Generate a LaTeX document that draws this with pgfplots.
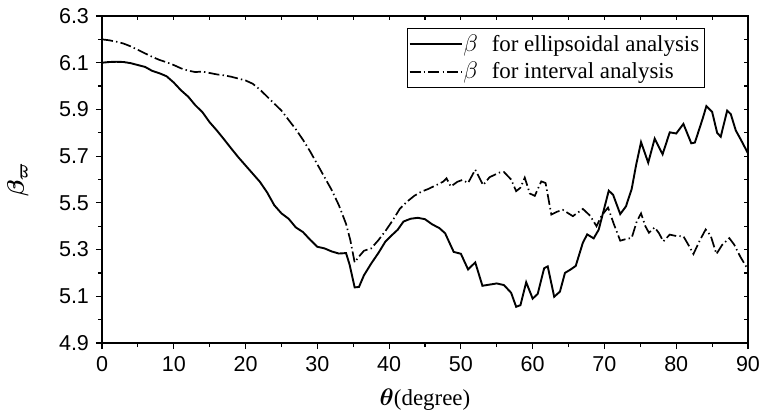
\documentclass[border=0pt]{standalone}
\usepackage{fontspec}
\setmainfont{Liberation Serif}
\newfontfamily\arialfont{Liberation Sans}
\usepackage{bm}
\usepackage{pgfplots}
\pgfplotsset{compat=1.18}

% beta for ellipsoidal analysis
\pgfplotstableread{
x y
0 6.100
1 6.103
2 6.104
3 6.103
4 6.098
5 6.090
6 6.082
7 6.065
8 6.055
9 6.042
10 6.015
11 5.982
12 5.955
13 5.918
14 5.888
15 5.845
16 5.810
17 5.772
18 5.733
19 5.695
20 5.660
21 5.625
22 5.590
23 5.545
24 5.490
25 5.455
26 5.432
27 5.395
28 5.375
29 5.342
30 5.312
31 5.305
32 5.292
33 5.283
34 5.285
34.5 5.235
35.2 5.138
35.8 5.140
36.5 5.190
37.5 5.240
38.5 5.285
39.5 5.335
40.5 5.365
41.2 5.385
42 5.420
43 5.432
44 5.436
45 5.430
46 5.408
47 5.392
47.8 5.370
48.4 5.330
49 5.290
50 5.282
51 5.215
52 5.245
53 5.145
54 5.150
55 5.155
56 5.148
57 5.115
57.7 5.055
58.3 5.062
59.1 5.160
60 5.090
60.7 5.110
61.6 5.220
62.1 5.228
63 5.098
63.8 5.120
64.5 5.200
65.3 5.215
66 5.230
67 5.330
67.6 5.365
68.5 5.348
69.2 5.385
70 5.480
70.6 5.552
71.2 5.535
72.2 5.452
73 5.485
73.8 5.560
74.4 5.660
75.1 5.760
76.1 5.672
77 5.775
78.1 5.708
79.1 5.802
80 5.797
81 5.838
82.1 5.755
82.6 5.758
83.7 5.862
84.2 5.914
85 5.890
85.7 5.800
86.2 5.783
87.1 5.895
87.6 5.880
88.3 5.810
89.1 5.765
90 5.712
}\ellipsoidal

% beta for interval analysis
\pgfplotstableread{
x y
0 6.200
1 6.196
2 6.190
3 6.182
4 6.170
5 6.155
6 6.140
7 6.125
8 6.112
9 6.102
10 6.090
11 6.076
12 6.066
13 6.060
14 6.062
15 6.056
16 6.050
17 6.046
18 6.040
19 6.032
20 6.024
21 6.010
22 5.985
23 5.955
24 5.925
25 5.895
26 5.855
27 5.815
28 5.770
29 5.720
30 5.665
31 5.610
32 5.555
33 5.490
34 5.410
34.6 5.340
35.2 5.245
35.8 5.270
36.5 5.295
37.5 5.305
38.5 5.340
39.5 5.380
40.5 5.425
41.5 5.475
42.5 5.505
43.5 5.530
44.5 5.548
45.5 5.560
46.5 5.575
47.5 5.590
48 5.605
48.6 5.570
49.5 5.590
50.2 5.598
51 5.585
52 5.642
53.1 5.576
54 5.610
55.4 5.630
56 5.632
57 5.600
57.7 5.550
58.3 5.565
58.9 5.608
59.6 5.540
60.3 5.530
61.2 5.592
61.8 5.585
62.6 5.450
63.4 5.462
64.2 5.470
65.6 5.443
67 5.474
68 5.445
68.9 5.400
69.6 5.445
70.5 5.480
71.3 5.410
72.2 5.338
73 5.345
73.8 5.350
74.5 5.420
75.1 5.455
75.7 5.400
76.2 5.372
77 5.395
77.6 5.370
78.2 5.335
79.1 5.364
80 5.358
81 5.357
81.7 5.320
82.4 5.281
83.3 5.340
84.1 5.386
84.8 5.360
85.6 5.281
86.4 5.320
87.4 5.349
88.1 5.320
88.9 5.271
90 5.214
}\interval

\begin{document}
\begin{tikzpicture}
\begin{axis}[
  scale only axis, width=323bp, height=163.5bp,
  xmin=0, xmax=90, ymin=4.9, ymax=6.3,
  xtick={0,10,...,90},
  ytick={4.9,5.1,5.3,5.5,5.7,5.9,6.1,6.3},
  minor x tick num=1, minor y tick num=1,
  tick pos=left, tick align=outside,
  major tick length=3bp, minor tick length=2bp,
  axis line style={line width=0.75bp},
  every tick/.style={black, line width=0.6bp},
  ticklabel style={font=\arialfont\fontsize{10.8}{12}\selectfont},
  /pgf/number format/assume math mode=true,
  yticklabel style={/pgf/number format/.cd, fixed, fixed zerofill, precision=1},
  xlabel={$\bm{\theta}$(degree)},
  ylabel={$\bm{\beta}_{\bm{\varpi}}$},
  label style={font=\fontsize{11.5}{13}\selectfont},
  xlabel style={at={(axis description cs:0.5,-0.1743)}, anchor=center},
  ylabel style={at={(axis description cs:-0.1300,0.5)}, anchor=center},
  legend style={at={(rel axis cs:0.933,0.963)}, anchor=north east,
    draw=black, line width=0.5bp, inner xsep=0.5bp, inner ysep=1bp,
    font=\fontsize{11.5}{13}\selectfont, row sep=0bp},
  legend cell align=left,
  legend image code/.code={\draw[#1] (0bp,0bp) -- (26bp,0bp);},
]
\addplot[black, line width=0.95bp] table[x=x, y=y] {\ellipsoidal};
\addlegendentry{\hspace{-1.5bp}$\beta$\hspace{0.6em}for ellipsoidal analysis}
\addplot[black, line width=0.85bp, dash pattern=on 5.5bp off 1.6bp on 0.7bp off 1.6bp] table[x=x, y=y] {\interval};
\addlegendentry{\hspace{-1.5bp}$\beta$\hspace{0.6em}for interval analysis}
\end{axis}
\begin{axis}[
  scale only axis, width=323bp, height=163.5bp,
  xmin=0, xmax=90, ymin=4.9, ymax=6.3,
  xtick={0,5,...,90},
  ytick={4.9,5,5.1,5.2,5.3,5.4,5.5,5.6,5.7,5.8,5.9,6,6.1,6.2,6.3},
  xticklabels={}, yticklabels={},
  tick pos=right, tick align=inside,
  major tick length=2bp,
  axis line style={line width=0.75bp},
  every tick/.style={black, line width=0.6bp},
]
\end{axis}
\pgfresetboundingbox
\path ([shift={(-51bp,-36.5bp)}]current axis.south west) rectangle ([shift={(6.5bp,8bp)}]current axis.north east);
\end{tikzpicture}
\end{document}
